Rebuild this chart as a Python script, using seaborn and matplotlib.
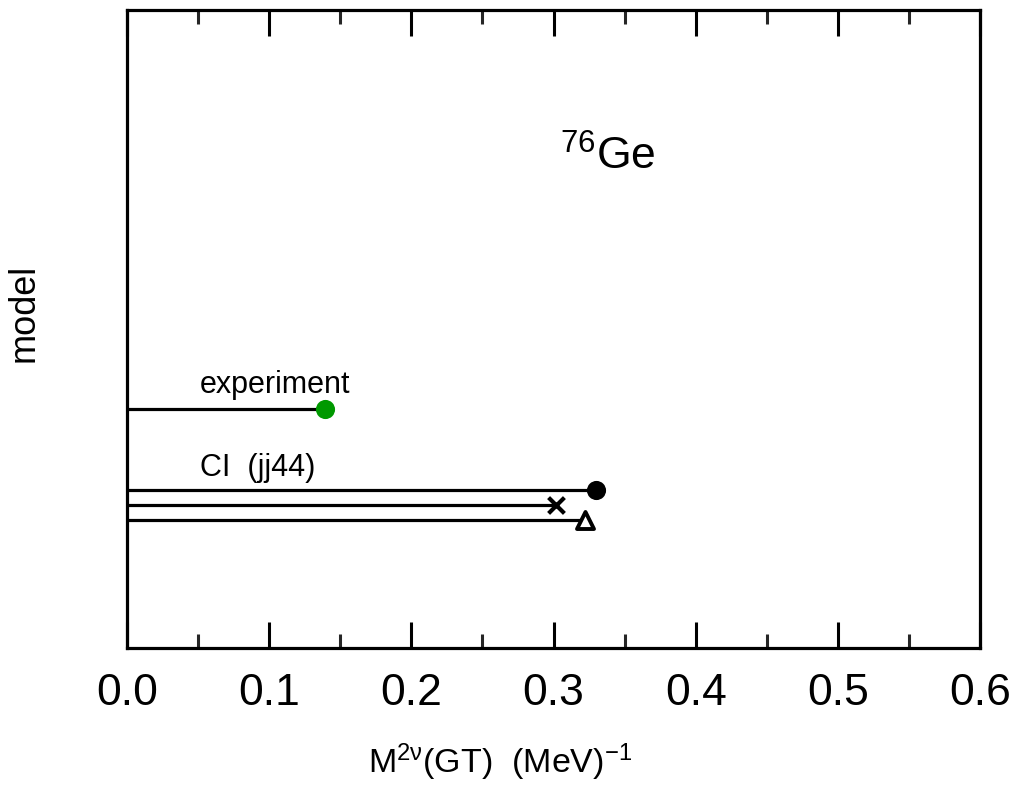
import matplotlib
matplotlib.use("Agg")
import matplotlib.pyplot as plt
import seaborn as sns
import pandas as pd

# Calculated 2-neutrino Gamow-Teller matrix elements for 76Ge
models = ["experiment", "CI (jj44) a", "CI (jj44) b", "CI (jj44) c"]
m2nu = [0.139, 0.330, 0.302, 0.322]
row_pos = [0.375, 0.248, 0.224, 0.200]
marker_kind = ["o", "o", "x", "^"]
marker_color = ["#009900", "black", "black", "black"]
marker_fill = ["#009900", "black", "none", "none"]

group_labels = ["experiment", "CI  (jj44)"]
group_label_y = [0.413, 0.283]

x_ticks = [0.0, 0.1, 0.2, 0.3, 0.4, 0.5, 0.6]
x_tick_labels = ["0.0", "0.1", "0.2", "0.3", "0.4", "0.5", "0.6"]

df = pd.DataFrame({"model": models, "m2nu": m2nu, "y": row_pos})

sns.set_theme(style="white")
plt.rcParams["font.family"] = ["Liberation Sans", "DejaVu Sans"]
plt.rcParams["text.color"] = "black"
plt.rcParams["axes.labelcolor"] = "black"

fig = plt.figure(figsize=(10.17, 7.85), dpi=100)
ax = fig.add_axes([0.1249, 0.1745, 0.8387, 0.8125])

# horizontal bars from zero to each value
ax.hlines(df["y"], 0, df["m2nu"], color="black", lw=2.3, zorder=2)

for i, row in df.iterrows():
    sub = df.iloc[[i]]
    if marker_kind[i] == "x":
        sns.scatterplot(data=sub, x="m2nu", y="y", ax=ax, marker="x",
                        color=marker_color[i], s=130, linewidth=3.0,
                        zorder=3, legend=False)
    elif marker_fill[i] == "none":
        sns.scatterplot(data=sub, x="m2nu", y="y", ax=ax, marker=marker_kind[i],
                        facecolor="white", edgecolor=marker_color[i], s=150,
                        linewidth=2.8, zorder=3, legend=False)
    else:
        sns.scatterplot(data=sub, x="m2nu", y="y", ax=ax, marker=marker_kind[i],
                        color=marker_color[i], edgecolor=marker_color[i], s=190,
                        linewidth=0, zorder=3, legend=False)

for lab, yl in zip(group_labels, group_label_y):
    ax.text(0.051, yl, lab, fontsize=22, ha="left", va="center", color="black")

ax.text(0.564, 0.77, r"$\mathregular{^{76}}$Ge", transform=ax.transAxes,
        fontsize=32, ha="center", va="center", color="black")

ax.set_xlim(0, 0.6)
ax.set_ylim(0, 1)
ax.set_xticks(x_ticks)
ax.set_xticklabels(x_tick_labels)
ax.set_xticks([0.05, 0.15, 0.25, 0.35, 0.45, 0.55], minor=True)
ax.set_yticks([])

ax.tick_params(axis="x", which="major", direction="in", length=19, width=2.2,
               top=True, bottom=True, labelsize=32, pad=18, colors="black")
ax.tick_params(axis="x", which="minor", direction="in", length=10, width=2.2,
               top=True, bottom=True)

for sp in ax.spines.values():
    sp.set_visible(True)
    sp.set_linewidth(2.3)
    sp.set_color("black")

ax.set_xlabel("M$\\mathregular{^{2ν}}$(GT)  (MeV)$\\mathregular{^{−1}}$",
              fontsize=24.5)
ax.xaxis.set_label_coords(0.437, -0.146)
ax.set_ylabel("model", fontsize=26)
ax.yaxis.set_label_coords(-0.0997, 0.525)

fig.savefig("out.png", dpi=100, facecolor="white")
